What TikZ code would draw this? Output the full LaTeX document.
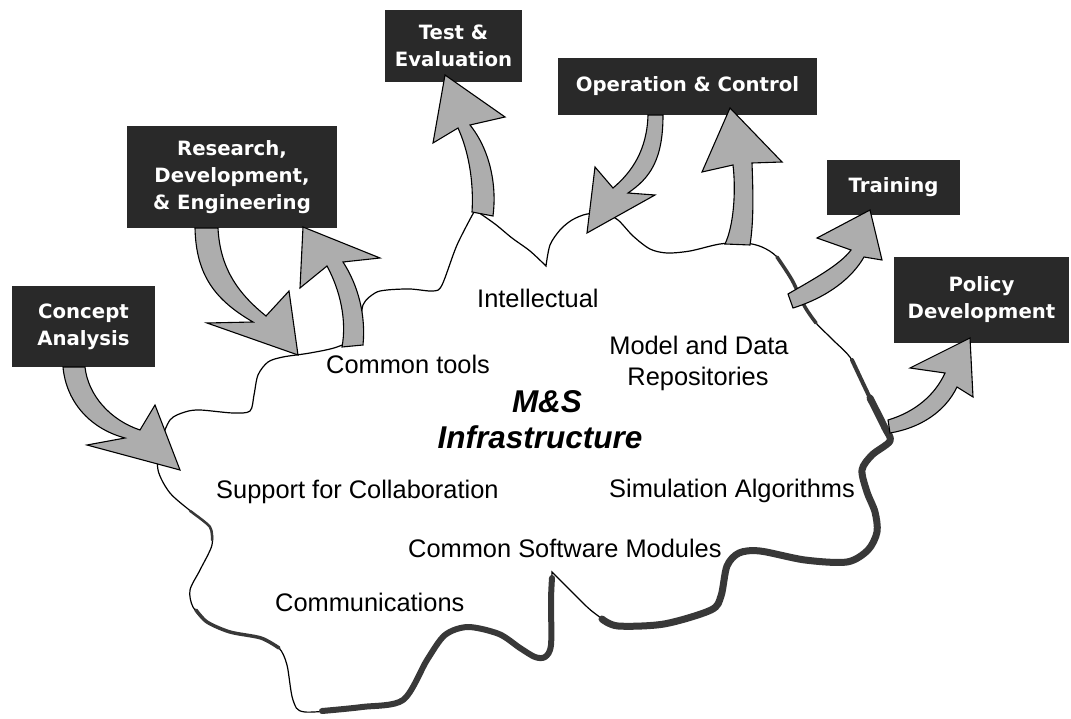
\documentclass[tikz,border=0pt]{standalone}
\usepackage{fontspec}
\setmainfont{Liberation Sans}
\newfontfamily\boxfamily{DejaVu Sans}
\definecolor{boxfill}{gray}{0.16}
\definecolor{arrowfill}{gray}{0.68}
\definecolor{ribbon}{gray}{0.22}
\tikzset{
  mbox/.style={fill=boxfill, text=white, align=center, inner sep=0pt,
    font=\boxfamily\bfseries\fontsize{19.7}{27}\selectfont},
  barrow/.style={fill=arrowfill, draw=black, line width=1.1pt, line join=miter},
  cloudline/.style={draw=black, line width=1.2pt, fill=white},
  rib/.style={draw=ribbon, line width=#1, line cap=round, line join=round},
  ctext/.style={font=\fontsize{25.4}{30}\selectfont, anchor=base west, inner sep=0pt},
  ctextc/.style={font=\fontsize{25.4}{30}\selectfont, anchor=base, inner sep=0pt},
  title/.style={font=\bfseries\itshape\fontsize{31.5}{36}\selectfont, anchor=base, inner sep=0pt},
}
\begin{document}
\begin{tikzpicture}[x=1pt,y=-1pt]
\useasboundingbox (0,0) rectangle (1071,719);
\fill[white] (0,0) rectangle (1071,719);

% ---- cloud ----
\path[cloudline]
  plot[smooth, tension=0.5] coordinates {(552,572) (551,600) (551,645) (545,657) (535,657) (520,648) (499,634) (468,627) (445,635) (427,660) (403,700) (362,707) (305,712) (293,700) (287,665) (279,648) (261,638) (230,632) (207,622) (193,607) (190,590) (200,570) (212,545) (210,527) (193,513) (170,493) (158,470) (160,445) (170,420) (185,412) (200,410) (233,413) (250,411) (254,395) (258,375) (268,362) (283,357) (310,353) (337,347) (358,335) (363,305) (375,293) (387,290) (410,289) (433,291) (442,285) (457,245) (475,210)}
  -- plot[smooth, tension=0.5] coordinates {(475,210) (495,224) (512,238) (530,251) (546,266)}
  -- plot[smooth, tension=0.5] coordinates {(546,266) (550,245) (560,230) (572,220) (587,214) (605,214) (618,220) (633,236) (650,249) (667,253) (690,251) (720,244) (745,243) (762,247) (777,257) (792,280) (805,307) (816,323) (833,340) (852,360) (870,398) (885,428) (890,441) (872,455) (862,470) (867,492) (875,512) (877,532) (868,550) (847,562) (805,560) (760,551) (739,553) (727,566) (721,596) (711,610) (664,624) (618,626) (593,612) (570,590) (552,572)}
  -- cycle;

% heavy shaded parts of the outline
\draw[rib=3.5pt] plot[smooth, tension=0.5] coordinates {(777,257) (792,280) (805,307) (816,323)};
\draw[rib=4pt] plot[smooth, tension=0.5] coordinates {(852,360) (870,398) (885,428)};
\draw[rib=7pt] plot[smooth, tension=0.5] coordinates {(870,398) (885,428) (890,441) (872,455) (862,470) (867,492) (875,512) (877,532) (868,550) (847,562) (805,560) (760,551) (739,553) (727,566) (721,596) (711,610) (664,624) (618,626) (602,619)};
\draw[rib=6pt] plot[smooth, tension=0.5] coordinates {(552,578) (551,600) (551,645) (545,657) (535,657) (520,648) (499,634) (468,627) (445,635) (427,660) (403,700) (362,707) (322,711)};
\draw[rib=3.5pt] plot[smooth, tension=0.5] coordinates {(279,648) (261,638) (230,632) (207,622) (196,610)};
\draw[rib=2.5pt] plot[smooth, tension=0.5] coordinates {(190,511) (193,513) (210,527) (212,540)};

% ---- boxes ----
\node[mbox, minimum width=143, minimum height=81] (ca)  at (83.5,326.5) {Concept\\Analysis};
\node[mbox, minimum width=210, minimum height=102] (rde) at (232,177) {Research,\\Development,\\\& Engineering};
\node[mbox, minimum width=137, minimum height=72] (te)  at (453.5,46) {Test \&\\Evaluation};
\node[mbox, minimum width=259, minimum height=57] (oc)  at (687.5,86.5) {Operation \& Control};
\node[mbox, minimum width=133, minimum height=55] (tr)  at (893.5,187.5) {Training};
\node[mbox, minimum width=175, minimum height=86] (pd)  at (981.5,300) {Policy\\Development};

% ---- block arrows ----
% Concept Analysis -> cloud
\draw[barrow] (63,367) .. controls (66,400) and (88,428) .. (125,438) -- (87,445) -- (180,470) -- (155,405) -- (140,430) .. controls (110,420) and (88,395) .. (85,367) -- cycle;
% RD&E -> cloud
\draw[barrow] (195,228) .. controls (196,275) and (215,300) .. (253,322) -- (207,323) -- (298,355) -- (289,291) -- (266,316) .. controls (240,295) and (220,270) .. (218,228) -- cycle;
% cloud -> RD&E
\draw[barrow] (342,347) .. controls (347,320) and (340,290) .. (327,266) -- (300,288) -- (303,227) -- (380,258) -- (343,262) .. controls (358,285) and (366,315) .. (363,345) -- cycle;
% cloud -> Test & Evaluation
\draw[barrow] (472,212) .. controls (474,180) and (468,150) .. (458,128) -- (433,143) -- (445,75) -- (505,117) -- (470,125) .. controls (490,150) and (497,185) .. (493,216) -- cycle;
% Operation & Control -> cloud
\draw[barrow] (648,115) .. controls (647,150) and (632,172) .. (613,188) -- (595,167) -- (587,233) -- (655,195) -- (628,193) .. controls (650,178) and (663,160) .. (663,115) -- cycle;
% cloud -> Operation & Control
\draw[barrow] (725,244) .. controls (734,225) and (736,190) .. (733,165) -- (702,172) -- (730,108) -- (782,162) -- (752,163) .. controls (753,190) and (754,220) .. (750,245) -- cycle;
% cloud -> Training
\draw[barrow] (788,294) .. controls (812,280) and (840,265) .. (851,250) -- (817,238) -- (870,210) -- (882,260) -- (864,257) .. controls (852,278) and (828,297) .. (793,308) -- cycle;
% cloud -> Policy Development
\draw[barrow] (888,420) .. controls (915,412) and (935,395) .. (945,373) -- (910,368) -- (970,338) -- (973,397) -- (957,387) .. controls (945,412) and (920,428) .. (890,433) -- cycle;

% ---- cloud texts ----
\node[ctext] (intel) at (477,308) {Intellectual};
\node[ctext] (tools) at (326,373) {Common tools};
\node[ctextc] (model) at (699,354) {Model and Data};
\node[ctextc] (repo)  at (698,385) {Repositories};
\node[title] (ms)    at (547,412) {M\&S};
\node[title] (infra) at (540,448) {Infrastructure};
\node[ctext] (collab) at (216,498) {Support for Collaboration};
\node[ctext] (simalg) at (609,497) {Simulation Algorithms};
\node[ctext] (csm)    at (408,557) {Common Software Modules};
\node[ctext] (comm)   at (275,611) {Communications};
\end{tikzpicture}
\end{document}
